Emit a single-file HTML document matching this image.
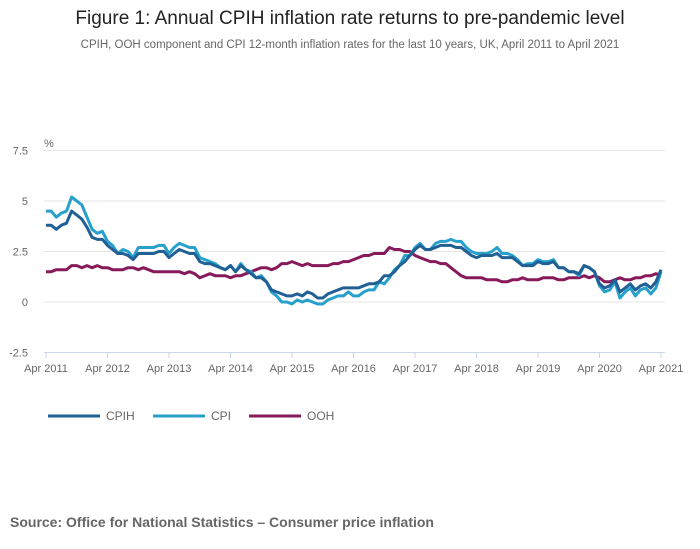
<!DOCTYPE html>
<html><head><meta charset="utf-8"><style>
body{margin:0;background:#fff;font-family:"Liberation Sans",sans-serif;}
svg{display:block}
</style></head><body>
<svg width="700" height="549">
<text x="350" y="24" text-anchor="middle" font-size="19" fill="#222">Figure 1: Annual CPIH inflation rate returns to pre-pandemic level</text>
<text x="350" y="48" text-anchor="middle" font-size="11.5" fill="#666">CPIH, OOH component and CPI 12-month inflation rates for the last 10 years, UK, April 2011 to April 2021</text>
<text x="44" y="147" font-size="11" fill="#666">%</text>
<g id="grid"></g>
<g id="xaxis"></g>
<g id="series"></g>
<g>
<line x1="48" y1="416" x2="100" y2="416" stroke="#206095" stroke-width="3"/>
<text x="106" y="420" font-size="12" fill="#666">CPIH</text>
<line x1="153" y1="416" x2="205" y2="416" stroke="#27a0cc" stroke-width="3"/>
<text x="211" y="420" font-size="12" fill="#666">CPI</text>
<line x1="249" y1="416" x2="301" y2="416" stroke="#871a5b" stroke-width="3"/>
<text x="307" y="420" font-size="12" fill="#666">OOH</text>
</g>
<text x="10" y="527" font-size="14" font-weight="bold" fill="#666">Source: Office for National Statistics – Consumer price inflation</text>
</svg>
<script>
const yTicks=[7.5,5,2.5,0,-2.5];
const yTickLabels=["7.5","5","2.5","0","-2.5"];
const xTickLabels=["Apr 2011","Apr 2012","Apr 2013","Apr 2014","Apr 2015","Apr 2016","Apr 2017","Apr 2018","Apr 2019","Apr 2020","Apr 2021"];
const cpih=[3.8,3.8,3.6,3.8,3.9,4.5,4.3,4.1,3.7,
3.2,3.1,3.1,2.8,2.6,2.4,2.4,2.3,2.1,2.4,2.4,2.4,
2.4,2.5,2.5,2.2,2.4,2.6,2.5,2.4,2.4,2.0,1.9,1.9,
1.8,1.7,1.6,1.8,1.5,1.8,1.6,1.4,1.2,1.2,1.0,0.6,
0.5,0.4,0.3,0.3,0.4,0.3,0.5,0.4,0.2,0.2,0.4,0.5,
0.6,0.7,0.7,0.7,0.7,0.8,0.9,0.9,1.0,1.3,1.3,1.5,
1.8,2.0,2.3,2.6,2.8,2.6,2.6,2.7,2.8,2.8,2.8,2.7,
2.7,2.5,2.3,2.2,2.3,2.3,2.3,2.4,2.2,2.2,2.2,2.0,
1.8,1.8,1.8,2.0,1.9,1.9,2.0,1.7,1.7,1.5,1.5,1.4,
1.8,1.7,1.5,0.9,0.7,0.8,1.1,0.5,0.7,0.9,0.6,0.8,
0.9,0.7,1.0,1.6];
const cpi=[4.5,4.5,4.2,4.4,4.5,5.2,5.0,4.8,4.2,
3.6,3.4,3.5,3.0,2.8,2.4,2.6,2.5,2.2,2.7,2.7,2.7,
2.7,2.8,2.8,2.4,2.7,2.9,2.8,2.7,2.7,2.2,2.1,2.0,
1.9,1.7,1.6,1.8,1.5,1.9,1.6,1.5,1.2,1.3,1.0,0.5,
0.3,0.0,0.0,-0.1,0.1,0.0,0.1,0.0,-0.1,-0.1,0.1,0.2,
0.3,0.3,0.5,0.3,0.3,0.5,0.6,0.6,1.0,0.9,1.2,1.6,
1.8,2.3,2.3,2.7,2.9,2.6,2.6,2.9,3.0,3.0,3.1,3.0,
3.0,2.7,2.5,2.4,2.4,2.4,2.5,2.7,2.4,2.4,2.3,2.1,
1.8,1.9,1.9,2.1,2.0,2.0,2.1,1.7,1.7,1.5,1.5,1.3,
1.8,1.7,1.5,0.8,0.5,0.6,1.0,0.2,0.5,0.7,0.3,0.6,
0.7,0.4,0.7,1.5];
const ooh=[1.5,1.5,1.6,1.6,1.6,1.8,1.8,1.7,1.8,
1.7,1.8,1.7,1.7,1.6,1.6,1.6,1.7,1.7,1.6,1.7,1.6,
1.5,1.5,1.5,1.5,1.5,1.5,1.4,1.5,1.4,1.2,1.3,1.4,
1.3,1.3,1.3,1.2,1.3,1.3,1.4,1.5,1.6,1.7,1.7,1.6,
1.7,1.9,1.9,2.0,1.9,1.8,1.9,1.8,1.8,1.8,1.8,1.9,
1.9,2.0,2.0,2.1,2.2,2.3,2.3,2.4,2.4,2.4,2.7,2.6,
2.6,2.5,2.5,2.3,2.2,2.1,2.0,2.0,1.9,1.9,1.7,1.5,
1.3,1.2,1.2,1.2,1.2,1.1,1.1,1.1,1.0,1.0,1.1,1.1,
1.2,1.1,1.1,1.1,1.2,1.2,1.2,1.1,1.1,1.2,1.2,1.2,
1.3,1.2,1.3,1.2,1.0,1.0,1.1,1.2,1.1,1.1,1.2,1.2,
1.3,1.3,1.4,1.3];
const NS='http://www.w3.org/2000/svg';
const X0=46,X1=661,Y0=302,PX=20.2;
function xs(i){return X0+(X1-X0)*i/120;}
function ys(v){return Y0-v*PX;}
function mk(t,a,p){const e=document.createElementNS(NS,t);for(const k in a)e.setAttribute(k,a[k]);p.appendChild(e);return e;}
const grid=document.getElementById('grid');
yTicks.forEach((v,i)=>{
 const l=mk('line',{x1:44,x2:665,y1:ys(v),y2:ys(v),stroke:v===-2.5?'#ccd6eb':'#e6e6e6','stroke-width':1},grid);
 
 
 const t=mk('text',{x:28,y:ys(v)+4,'text-anchor':'end','font-size':11,fill:'#666'},grid);
 t.textContent=yTickLabels[i];
 
 
});
const xa=document.getElementById('xaxis');
xTickLabels.forEach((s,i)=>{
 const x=xs(i*12);
 const tk=mk('line',{x1:x,x2:x,y1:352,y2:358,stroke:'#ccd6eb'},xa);
 
 
 const t=mk('text',{x:x,y:372,'text-anchor':'middle','font-size':11,fill:'#666'},xa);
 t.textContent=s;
 
 
});
const sg=document.getElementById('series');
[[ooh,'#871a5b','ooh-line'],[cpi,'#27a0cc','cpi-line'],[cpih,'#206095','cpih-line']].forEach(([d,c,n])=>{
 const p=mk('path',{d:d.map((v,i)=>(i?'L':'M')+xs(i).toFixed(1)+','+ys(v).toFixed(1)).join(''),fill:'none',stroke:c,'stroke-width':3,'stroke-linejoin':'round'},sg);
 
 
});
</script>
</body></html>
